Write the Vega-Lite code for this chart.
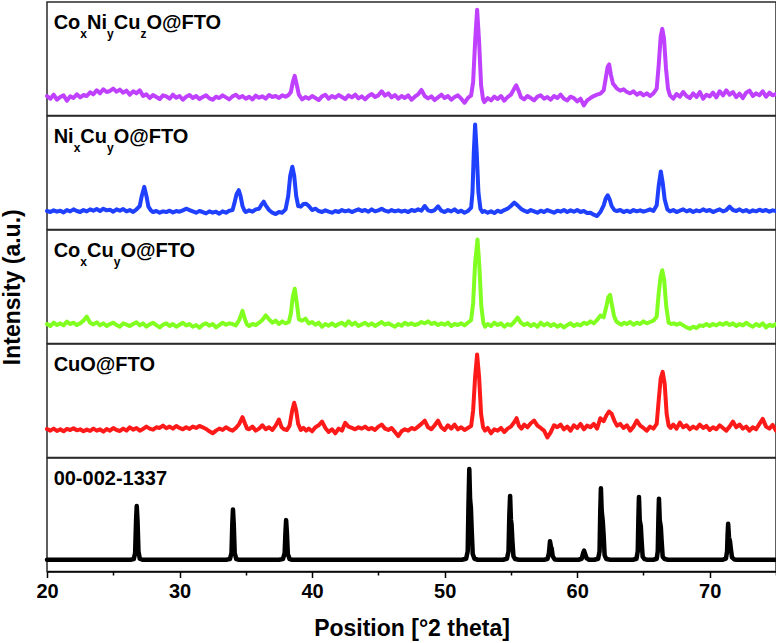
{
  "$schema": "https://vega.github.io/schema/vega-lite/v6.json",
  "padding": {"left": 0, "right": 0, "top": 1, "bottom": 0},
  "background": "white",
  "spacing": 0,
  "bounds": "flush",
  "config": {
    "font": "Liberation Sans",
    "view": {"stroke": "#2a2a2a", "strokeWidth": 1.5},
    "line": {"strokeWidth": 4, "strokeJoin": "round", "strokeCap": "round"},
    "text": {"align": "left", "baseline": "alphabetic", "fontSize": 20, "fontWeight": "bold", "color": "black"}
  },
  "datasets": {
    "p1": [
      {"pos":20.00,"int":58},{"pos":20.25,"int":50},{"pos":20.50,"int":62},{"pos":20.75,"int":47},{"pos":21.00,"int":55},{"pos":21.25,"int":60},{"pos":21.50,"int":44},{"pos":21.75,"int":57},{"pos":22.00,"int":52},{"pos":22.25,"int":63},{"pos":22.50,"int":54},{"pos":22.75,"int":61},{"pos":23.00,"int":58},{"pos":23.25,"int":69},{"pos":23.50,"int":63},{"pos":23.75,"int":75},{"pos":24.00,"int":66},{"pos":24.25,"int":78},{"pos":24.50,"int":70},{"pos":24.75,"int":73},{"pos":25.00,"int":80},{"pos":25.25,"int":71},{"pos":25.50,"int":77},{"pos":25.75,"int":68},{"pos":26.00,"int":74},{"pos":26.25,"int":62},{"pos":26.50,"int":72},{"pos":26.75,"int":66},{"pos":27.00,"int":75},{"pos":27.25,"int":58},{"pos":27.50,"int":63},{"pos":27.75,"int":52},{"pos":28.00,"int":61},{"pos":28.25,"int":55},{"pos":28.50,"int":49},{"pos":28.75,"int":60},{"pos":29.00,"int":57},{"pos":29.25,"int":50},{"pos":29.50,"int":62},{"pos":29.75,"int":53},{"pos":30.00,"int":58},{"pos":30.25,"int":47},{"pos":30.50,"int":56},{"pos":30.75,"int":61},{"pos":31.00,"int":52},{"pos":31.25,"int":58},{"pos":31.50,"int":49},{"pos":31.75,"int":55},{"pos":32.00,"int":60},{"pos":32.25,"int":51},{"pos":32.50,"int":47},{"pos":32.75,"int":56},{"pos":33.00,"int":52},{"pos":33.25,"int":60},{"pos":33.50,"int":54},{"pos":33.75,"int":48},{"pos":34.00,"int":57},{"pos":34.25,"int":62},{"pos":34.50,"int":53},{"pos":34.75,"int":58},{"pos":35.00,"int":50},{"pos":35.25,"int":56},{"pos":35.50,"int":48},{"pos":35.75,"int":59},{"pos":36.00,"int":53},{"pos":36.25,"int":57},{"pos":36.50,"int":50},{"pos":36.75,"int":61},{"pos":37.00,"int":55},{"pos":37.25,"int":58},{"pos":37.50,"int":52},{"pos":37.75,"int":60},{"pos":38.00,"int":56},{"pos":38.25,"int":62},{"pos":38.40,"int":70},{"pos":38.55,"int":100},{"pos":38.69,"int":118},{"pos":38.85,"int":90},{"pos":39.00,"int":62},{"pos":39.25,"int":48},{"pos":39.50,"int":55},{"pos":39.75,"int":50},{"pos":40.00,"int":58},{"pos":40.25,"int":52},{"pos":40.50,"int":46},{"pos":40.75,"int":57},{"pos":41.00,"int":62},{"pos":41.25,"int":50},{"pos":41.50,"int":58},{"pos":41.75,"int":53},{"pos":42.00,"int":61},{"pos":42.25,"int":55},{"pos":42.50,"int":49},{"pos":42.75,"int":60},{"pos":43.00,"int":54},{"pos":43.25,"int":62},{"pos":43.50,"int":51},{"pos":43.75,"int":57},{"pos":44.00,"int":48},{"pos":44.25,"int":58},{"pos":44.50,"int":64},{"pos":44.75,"int":55},{"pos":45.00,"int":60},{"pos":45.25,"int":72},{"pos":45.50,"int":59},{"pos":45.75,"int":66},{"pos":46.00,"int":54},{"pos":46.25,"int":61},{"pos":46.50,"int":50},{"pos":46.75,"int":58},{"pos":47.00,"int":52},{"pos":47.25,"int":60},{"pos":47.50,"int":47},{"pos":47.75,"int":56},{"pos":48.00,"int":63},{"pos":48.25,"int":76},{"pos":48.50,"int":58},{"pos":48.75,"int":51},{"pos":49.00,"int":57},{"pos":49.25,"int":46},{"pos":49.50,"int":54},{"pos":49.75,"int":62},{"pos":50.00,"int":52},{"pos":50.25,"int":58},{"pos":50.50,"int":47},{"pos":50.75,"int":55},{"pos":51.00,"int":60},{"pos":51.25,"int":50},{"pos":51.50,"int":38},{"pos":51.75,"int":52},{"pos":52.00,"int":60},{"pos":52.15,"int":100},{"pos":52.30,"int":220},{"pos":52.45,"int":315},{"pos":52.60,"int":220},{"pos":52.75,"int":90},{"pos":52.90,"int":48},{"pos":53.00,"int":40},{"pos":53.25,"int":52},{"pos":53.50,"int":45},{"pos":53.75,"int":56},{"pos":54.00,"int":49},{"pos":54.25,"int":58},{"pos":54.50,"int":44},{"pos":54.75,"int":55},{"pos":55.00,"int":62},{"pos":55.25,"int":80},{"pos":55.40,"int":90},{"pos":55.60,"int":72},{"pos":55.75,"int":55},{"pos":56.00,"int":48},{"pos":56.25,"int":58},{"pos":56.50,"int":52},{"pos":56.75,"int":45},{"pos":57.00,"int":56},{"pos":57.25,"int":60},{"pos":57.50,"int":50},{"pos":57.75,"int":55},{"pos":58.00,"int":47},{"pos":58.25,"int":58},{"pos":58.50,"int":52},{"pos":58.75,"int":62},{"pos":59.00,"int":50},{"pos":59.25,"int":45},{"pos":59.50,"int":56},{"pos":59.75,"int":52},{"pos":60.00,"int":42},{"pos":60.25,"int":50},{"pos":60.50,"int":30},{"pos":60.75,"int":45},{"pos":61.00,"int":52},{"pos":61.25,"int":58},{"pos":61.50,"int":62},{"pos":61.75,"int":65},{"pos":62.00,"int":75},{"pos":62.15,"int":110},{"pos":62.30,"int":145},{"pos":62.41,"int":152},{"pos":62.55,"int":120},{"pos":62.70,"int":95},{"pos":62.85,"int":88},{"pos":63.00,"int":80},{"pos":63.25,"int":74},{"pos":63.50,"int":78},{"pos":63.75,"int":70},{"pos":64.00,"int":66},{"pos":64.25,"int":72},{"pos":64.50,"int":62},{"pos":64.75,"int":68},{"pos":65.00,"int":60},{"pos":65.25,"int":66},{"pos":65.50,"int":58},{"pos":65.75,"int":66},{"pos":66.00,"int":80},{"pos":66.15,"int":150},{"pos":66.30,"int":235},{"pos":66.42,"int":258},{"pos":66.55,"int":230},{"pos":66.70,"int":140},{"pos":66.85,"int":80},{"pos":67.00,"int":60},{"pos":67.25,"int":50},{"pos":67.50,"int":64},{"pos":67.75,"int":56},{"pos":68.00,"int":70},{"pos":68.25,"int":58},{"pos":68.50,"int":52},{"pos":68.75,"int":66},{"pos":69.00,"int":55},{"pos":69.25,"int":70},{"pos":69.50,"int":50},{"pos":69.75,"int":62},{"pos":70.00,"int":57},{"pos":70.25,"int":68},{"pos":70.50,"int":54},{"pos":70.75,"int":72},{"pos":71.00,"int":60},{"pos":71.25,"int":75},{"pos":71.50,"int":62},{"pos":71.75,"int":70},{"pos":72.00,"int":55},{"pos":72.25,"int":65},{"pos":72.50,"int":52},{"pos":72.75,"int":68},{"pos":73.00,"int":74},{"pos":73.25,"int":58},{"pos":73.50,"int":66},{"pos":73.75,"int":60},{"pos":74.00,"int":72},{"pos":74.25,"int":56},{"pos":74.50,"int":68},{"pos":74.75,"int":60},{"pos":75.00,"int":64}
    ],
    "p2": [
      {"pos":20.00,"int":55},{"pos":20.25,"int":52},{"pos":20.50,"int":57},{"pos":20.75,"int":53},{"pos":21.00,"int":56},{"pos":21.25,"int":51},{"pos":21.50,"int":58},{"pos":21.75,"int":54},{"pos":22.00,"int":60},{"pos":22.25,"int":55},{"pos":22.50,"int":52},{"pos":22.75,"int":58},{"pos":23.00,"int":54},{"pos":23.25,"int":60},{"pos":23.50,"int":56},{"pos":23.75,"int":61},{"pos":24.00,"int":55},{"pos":24.25,"int":62},{"pos":24.50,"int":57},{"pos":24.75,"int":59},{"pos":25.00,"int":53},{"pos":25.25,"int":60},{"pos":25.50,"int":56},{"pos":25.75,"int":61},{"pos":26.00,"int":54},{"pos":26.25,"int":58},{"pos":26.50,"int":52},{"pos":26.75,"int":60},{"pos":27.00,"int":70},{"pos":27.15,"int":100},{"pos":27.34,"int":127},{"pos":27.50,"int":100},{"pos":27.65,"int":68},{"pos":27.85,"int":56},{"pos":28.00,"int":52},{"pos":28.25,"int":55},{"pos":28.50,"int":50},{"pos":28.75,"int":54},{"pos":29.00,"int":52},{"pos":29.25,"int":56},{"pos":29.50,"int":51},{"pos":29.75,"int":55},{"pos":30.00,"int":53},{"pos":30.25,"int":57},{"pos":30.50,"int":62},{"pos":30.75,"int":58},{"pos":31.00,"int":54},{"pos":31.25,"int":50},{"pos":31.50,"int":55},{"pos":31.75,"int":52},{"pos":32.00,"int":48},{"pos":32.25,"int":54},{"pos":32.50,"int":50},{"pos":32.75,"int":53},{"pos":33.00,"int":47},{"pos":33.25,"int":54},{"pos":33.50,"int":50},{"pos":33.75,"int":56},{"pos":34.00,"int":58},{"pos":34.15,"int":80},{"pos":34.30,"int":105},{"pos":34.47,"int":117},{"pos":34.60,"int":100},{"pos":34.75,"int":70},{"pos":34.90,"int":56},{"pos":35.00,"int":52},{"pos":35.25,"int":57},{"pos":35.50,"int":53},{"pos":35.75,"int":60},{"pos":36.00,"int":62},{"pos":36.20,"int":75},{"pos":36.35,"int":83},{"pos":36.50,"int":72},{"pos":36.75,"int":58},{"pos":37.00,"int":50},{"pos":37.25,"int":46},{"pos":37.50,"int":52},{"pos":37.75,"int":50},{"pos":38.00,"int":60},{"pos":38.20,"int":100},{"pos":38.35,"int":160},{"pos":38.51,"int":187},{"pos":38.65,"int":160},{"pos":38.80,"int":100},{"pos":38.95,"int":70},{"pos":39.15,"int":68},{"pos":39.35,"int":76},{"pos":39.55,"int":77},{"pos":39.75,"int":70},{"pos":40.00,"int":58},{"pos":40.25,"int":62},{"pos":40.50,"int":55},{"pos":40.75,"int":52},{"pos":41.00,"int":57},{"pos":41.25,"int":53},{"pos":41.50,"int":50},{"pos":41.75,"int":55},{"pos":42.00,"int":52},{"pos":42.25,"int":58},{"pos":42.50,"int":54},{"pos":42.75,"int":57},{"pos":43.00,"int":52},{"pos":43.25,"int":56},{"pos":43.50,"int":60},{"pos":43.75,"int":55},{"pos":44.00,"int":58},{"pos":44.25,"int":53},{"pos":44.50,"int":60},{"pos":44.75,"int":54},{"pos":45.00,"int":57},{"pos":45.25,"int":62},{"pos":45.50,"int":56},{"pos":45.75,"int":53},{"pos":46.00,"int":58},{"pos":46.25,"int":54},{"pos":46.50,"int":57},{"pos":46.75,"int":53},{"pos":47.00,"int":56},{"pos":47.25,"int":52},{"pos":47.50,"int":58},{"pos":47.75,"int":55},{"pos":48.00,"int":60},{"pos":48.25,"int":56},{"pos":48.50,"int":70},{"pos":48.75,"int":57},{"pos":49.00,"int":54},{"pos":49.25,"int":58},{"pos":49.50,"int":69},{"pos":49.75,"int":56},{"pos":50.00,"int":52},{"pos":50.25,"int":58},{"pos":50.50,"int":54},{"pos":50.75,"int":60},{"pos":51.00,"int":52},{"pos":51.25,"int":56},{"pos":51.50,"int":50},{"pos":51.75,"int":55},{"pos":52.00,"int":65},{"pos":52.10,"int":110},{"pos":52.20,"int":230},{"pos":52.30,"int":313},{"pos":52.42,"int":230},{"pos":52.55,"int":110},{"pos":52.70,"int":62},{"pos":52.85,"int":52},{"pos":53.00,"int":55},{"pos":53.25,"int":50},{"pos":53.50,"int":54},{"pos":53.75,"int":49},{"pos":54.00,"int":56},{"pos":54.25,"int":52},{"pos":54.50,"int":58},{"pos":54.75,"int":62},{"pos":55.00,"int":70},{"pos":55.25,"int":80},{"pos":55.50,"int":72},{"pos":55.75,"int":62},{"pos":56.00,"int":56},{"pos":56.25,"int":52},{"pos":56.50,"int":58},{"pos":56.75,"int":54},{"pos":57.00,"int":50},{"pos":57.25,"int":56},{"pos":57.50,"int":52},{"pos":57.75,"int":58},{"pos":58.00,"int":54},{"pos":58.25,"int":50},{"pos":58.50,"int":56},{"pos":58.75,"int":53},{"pos":59.00,"int":58},{"pos":59.25,"int":52},{"pos":59.50,"int":57},{"pos":59.75,"int":53},{"pos":60.00,"int":58},{"pos":60.25,"int":52},{"pos":60.50,"int":55},{"pos":60.75,"int":49},{"pos":61.00,"int":50},{"pos":61.25,"int":44},{"pos":61.50,"int":40},{"pos":61.75,"int":52},{"pos":62.00,"int":72},{"pos":62.15,"int":92},{"pos":62.30,"int":102},{"pos":62.45,"int":90},{"pos":62.60,"int":70},{"pos":62.80,"int":58},{"pos":63.00,"int":55},{"pos":63.25,"int":58},{"pos":63.50,"int":52},{"pos":63.75,"int":56},{"pos":64.00,"int":52},{"pos":64.25,"int":58},{"pos":64.50,"int":54},{"pos":64.75,"int":57},{"pos":65.00,"int":53},{"pos":65.25,"int":56},{"pos":65.50,"int":60},{"pos":65.75,"int":55},{"pos":66.00,"int":72},{"pos":66.15,"int":130},{"pos":66.31,"int":173},{"pos":66.45,"int":140},{"pos":66.60,"int":90},{"pos":66.80,"int":60},{"pos":67.00,"int":54},{"pos":67.25,"int":58},{"pos":67.50,"int":52},{"pos":67.75,"int":56},{"pos":68.00,"int":60},{"pos":68.25,"int":54},{"pos":68.50,"int":58},{"pos":68.75,"int":52},{"pos":69.00,"int":57},{"pos":69.25,"int":54},{"pos":69.50,"int":60},{"pos":69.75,"int":55},{"pos":70.00,"int":58},{"pos":70.25,"int":52},{"pos":70.50,"int":56},{"pos":70.75,"int":60},{"pos":71.00,"int":54},{"pos":71.25,"int":58},{"pos":71.50,"int":68},{"pos":71.75,"int":58},{"pos":72.00,"int":55},{"pos":72.25,"int":60},{"pos":72.50,"int":54},{"pos":72.75,"int":58},{"pos":73.00,"int":52},{"pos":73.25,"int":57},{"pos":73.50,"int":54},{"pos":73.75,"int":59},{"pos":74.00,"int":55},{"pos":74.25,"int":58},{"pos":74.50,"int":53},{"pos":74.75,"int":57},{"pos":75.00,"int":55}
    ],
    "p3": [
      {"pos":20.00,"int":58},{"pos":20.25,"int":52},{"pos":20.50,"int":62},{"pos":20.75,"int":55},{"pos":21.00,"int":60},{"pos":21.25,"int":54},{"pos":21.50,"int":65},{"pos":21.75,"int":58},{"pos":22.00,"int":62},{"pos":22.25,"int":55},{"pos":22.50,"int":60},{"pos":22.75,"int":68},{"pos":23.00,"int":80},{"pos":23.25,"int":62},{"pos":23.50,"int":57},{"pos":23.75,"int":63},{"pos":24.00,"int":54},{"pos":24.25,"int":60},{"pos":24.50,"int":52},{"pos":24.75,"int":58},{"pos":25.00,"int":62},{"pos":25.25,"int":55},{"pos":25.50,"int":50},{"pos":25.75,"int":60},{"pos":26.00,"int":56},{"pos":26.25,"int":52},{"pos":26.50,"int":58},{"pos":26.75,"int":63},{"pos":27.00,"int":54},{"pos":27.25,"int":60},{"pos":27.50,"int":50},{"pos":27.75,"int":57},{"pos":28.00,"int":62},{"pos":28.25,"int":55},{"pos":28.50,"int":48},{"pos":28.75,"int":56},{"pos":29.00,"int":60},{"pos":29.25,"int":52},{"pos":29.50,"int":58},{"pos":29.75,"int":50},{"pos":30.00,"int":56},{"pos":30.25,"int":62},{"pos":30.50,"int":54},{"pos":30.75,"int":58},{"pos":31.00,"int":50},{"pos":31.25,"int":55},{"pos":31.50,"int":47},{"pos":31.75,"int":56},{"pos":32.00,"int":60},{"pos":32.25,"int":53},{"pos":32.50,"int":58},{"pos":32.75,"int":48},{"pos":33.00,"int":55},{"pos":33.25,"int":62},{"pos":33.50,"int":56},{"pos":33.75,"int":60},{"pos":34.00,"int":58},{"pos":34.25,"int":54},{"pos":34.50,"int":70},{"pos":34.75,"int":97},{"pos":34.95,"int":70},{"pos":35.10,"int":56},{"pos":35.25,"int":52},{"pos":35.50,"int":58},{"pos":35.75,"int":55},{"pos":36.00,"int":62},{"pos":36.25,"int":70},{"pos":36.50,"int":84},{"pos":36.75,"int":72},{"pos":37.00,"int":62},{"pos":37.25,"int":68},{"pos":37.50,"int":58},{"pos":37.75,"int":66},{"pos":38.00,"int":60},{"pos":38.25,"int":64},{"pos":38.40,"int":90},{"pos":38.55,"int":140},{"pos":38.69,"int":163},{"pos":38.85,"int":120},{"pos":39.00,"int":72},{"pos":39.25,"int":68},{"pos":39.50,"int":74},{"pos":39.75,"int":60},{"pos":40.00,"int":64},{"pos":40.25,"int":56},{"pos":40.50,"int":62},{"pos":40.75,"int":50},{"pos":41.00,"int":58},{"pos":41.25,"int":53},{"pos":41.50,"int":60},{"pos":41.75,"int":52},{"pos":42.00,"int":58},{"pos":42.25,"int":62},{"pos":42.50,"int":54},{"pos":42.75,"int":66},{"pos":43.00,"int":56},{"pos":43.25,"int":62},{"pos":43.50,"int":52},{"pos":43.75,"int":57},{"pos":44.00,"int":62},{"pos":44.25,"int":54},{"pos":44.50,"int":60},{"pos":44.75,"int":52},{"pos":45.00,"int":58},{"pos":45.25,"int":64},{"pos":45.50,"int":56},{"pos":45.75,"int":60},{"pos":46.00,"int":55},{"pos":46.25,"int":50},{"pos":46.50,"int":58},{"pos":46.75,"int":53},{"pos":47.00,"int":62},{"pos":47.25,"int":56},{"pos":47.50,"int":60},{"pos":47.75,"int":55},{"pos":48.00,"int":58},{"pos":48.25,"int":64},{"pos":48.50,"int":60},{"pos":48.75,"int":66},{"pos":49.00,"int":58},{"pos":49.25,"int":62},{"pos":49.50,"int":55},{"pos":49.75,"int":60},{"pos":50.00,"int":56},{"pos":50.25,"int":62},{"pos":50.50,"int":52},{"pos":50.75,"int":58},{"pos":51.00,"int":55},{"pos":51.25,"int":60},{"pos":51.50,"int":54},{"pos":51.75,"int":62},{"pos":52.00,"int":70},{"pos":52.15,"int":120},{"pos":52.30,"int":240},{"pos":52.48,"int":310},{"pos":52.62,"int":230},{"pos":52.77,"int":110},{"pos":52.92,"int":62},{"pos":53.05,"int":50},{"pos":53.25,"int":58},{"pos":53.50,"int":52},{"pos":53.75,"int":62},{"pos":54.00,"int":55},{"pos":54.25,"int":60},{"pos":54.50,"int":50},{"pos":54.75,"int":58},{"pos":55.00,"int":54},{"pos":55.25,"int":64},{"pos":55.50,"int":77},{"pos":55.75,"int":62},{"pos":56.00,"int":55},{"pos":56.25,"int":60},{"pos":56.50,"int":52},{"pos":56.75,"int":58},{"pos":57.00,"int":50},{"pos":57.25,"int":62},{"pos":57.50,"int":54},{"pos":57.75,"int":60},{"pos":58.00,"int":52},{"pos":58.25,"int":58},{"pos":58.50,"int":50},{"pos":58.75,"int":56},{"pos":59.00,"int":48},{"pos":59.25,"int":55},{"pos":59.50,"int":60},{"pos":59.75,"int":52},{"pos":60.00,"int":58},{"pos":60.25,"int":54},{"pos":60.50,"int":62},{"pos":60.75,"int":58},{"pos":61.00,"int":66},{"pos":61.25,"int":60},{"pos":61.50,"int":70},{"pos":61.75,"int":83},{"pos":62.00,"int":78},{"pos":62.20,"int":110},{"pos":62.35,"int":138},{"pos":62.48,"int":145},{"pos":62.62,"int":115},{"pos":62.78,"int":82},{"pos":62.95,"int":66},{"pos":63.15,"int":60},{"pos":63.35,"int":56},{"pos":63.55,"int":62},{"pos":63.75,"int":58},{"pos":64.00,"int":64},{"pos":64.25,"int":56},{"pos":64.50,"int":62},{"pos":64.75,"int":58},{"pos":65.00,"int":66},{"pos":65.25,"int":60},{"pos":65.50,"int":64},{"pos":65.75,"int":68},{"pos":66.00,"int":80},{"pos":66.15,"int":150},{"pos":66.30,"int":200},{"pos":66.42,"int":218},{"pos":66.56,"int":190},{"pos":66.72,"int":110},{"pos":66.90,"int":62},{"pos":67.10,"int":58},{"pos":67.30,"int":60},{"pos":67.50,"int":56},{"pos":67.75,"int":60},{"pos":68.00,"int":54},{"pos":68.25,"int":48},{"pos":68.50,"int":44},{"pos":68.75,"int":50},{"pos":69.00,"int":46},{"pos":69.25,"int":54},{"pos":69.50,"int":52},{"pos":69.75,"int":58},{"pos":70.00,"int":52},{"pos":70.25,"int":58},{"pos":70.50,"int":54},{"pos":70.75,"int":60},{"pos":71.00,"int":56},{"pos":71.25,"int":62},{"pos":71.50,"int":55},{"pos":71.75,"int":60},{"pos":72.00,"int":52},{"pos":72.25,"int":58},{"pos":72.50,"int":54},{"pos":72.75,"int":62},{"pos":73.00,"int":55},{"pos":73.25,"int":50},{"pos":73.50,"int":58},{"pos":73.75,"int":52},{"pos":74.00,"int":60},{"pos":74.25,"int":48},{"pos":74.50,"int":56},{"pos":74.75,"int":52},{"pos":75.00,"int":58}
    ],
    "p4": [
      {"pos":20.00,"int":85},{"pos":20.25,"int":80},{"pos":20.50,"int":86},{"pos":20.75,"int":79},{"pos":21.00,"int":84},{"pos":21.25,"int":78},{"pos":21.50,"int":85},{"pos":21.75,"int":82},{"pos":22.00,"int":87},{"pos":22.25,"int":81},{"pos":22.50,"int":84},{"pos":22.75,"int":78},{"pos":23.00,"int":83},{"pos":23.25,"int":79},{"pos":23.50,"int":86},{"pos":23.75,"int":80},{"pos":24.00,"int":84},{"pos":24.25,"int":77},{"pos":24.50,"int":85},{"pos":24.75,"int":80},{"pos":25.00,"int":88},{"pos":25.25,"int":82},{"pos":25.50,"int":79},{"pos":25.75,"int":86},{"pos":26.00,"int":80},{"pos":26.25,"int":90},{"pos":26.50,"int":83},{"pos":26.75,"int":88},{"pos":27.00,"int":80},{"pos":27.25,"int":85},{"pos":27.50,"int":92},{"pos":27.75,"int":86},{"pos":28.00,"int":83},{"pos":28.25,"int":90},{"pos":28.50,"int":88},{"pos":28.75,"int":95},{"pos":29.00,"int":87},{"pos":29.25,"int":92},{"pos":29.50,"int":86},{"pos":29.75,"int":94},{"pos":30.00,"int":88},{"pos":30.25,"int":84},{"pos":30.50,"int":90},{"pos":30.75,"int":85},{"pos":31.00,"int":92},{"pos":31.25,"int":88},{"pos":31.50,"int":94},{"pos":31.75,"int":90},{"pos":32.00,"int":85},{"pos":32.25,"int":78},{"pos":32.50,"int":72},{"pos":32.75,"int":80},{"pos":33.00,"int":86},{"pos":33.25,"int":82},{"pos":33.50,"int":90},{"pos":33.75,"int":84},{"pos":34.00,"int":80},{"pos":34.25,"int":88},{"pos":34.50,"int":100},{"pos":34.75,"int":120},{"pos":34.95,"int":100},{"pos":35.10,"int":86},{"pos":35.25,"int":84},{"pos":35.50,"int":92},{"pos":35.75,"int":80},{"pos":36.00,"int":86},{"pos":36.25,"int":96},{"pos":36.50,"int":84},{"pos":36.75,"int":90},{"pos":37.00,"int":82},{"pos":37.25,"int":95},{"pos":37.50,"int":113},{"pos":37.70,"int":90},{"pos":37.90,"int":84},{"pos":38.10,"int":82},{"pos":38.30,"int":95},{"pos":38.50,"int":140},{"pos":38.65,"int":163},{"pos":38.80,"int":140},{"pos":38.95,"int":100},{"pos":39.15,"int":82},{"pos":39.35,"int":88},{"pos":39.55,"int":80},{"pos":39.75,"int":86},{"pos":40.00,"int":78},{"pos":40.25,"int":90},{"pos":40.50,"int":96},{"pos":40.75,"int":107},{"pos":41.00,"int":88},{"pos":41.25,"int":76},{"pos":41.50,"int":84},{"pos":41.75,"int":72},{"pos":42.00,"int":86},{"pos":42.25,"int":80},{"pos":42.50,"int":103},{"pos":42.75,"int":92},{"pos":43.00,"int":88},{"pos":43.25,"int":84},{"pos":43.50,"int":90},{"pos":43.75,"int":86},{"pos":44.00,"int":92},{"pos":44.25,"int":84},{"pos":44.50,"int":88},{"pos":44.75,"int":82},{"pos":45.00,"int":92},{"pos":45.25,"int":98},{"pos":45.50,"int":86},{"pos":45.75,"int":82},{"pos":46.00,"int":88},{"pos":46.25,"int":76},{"pos":46.50,"int":64},{"pos":46.75,"int":78},{"pos":47.00,"int":84},{"pos":47.25,"int":80},{"pos":47.50,"int":88},{"pos":47.75,"int":84},{"pos":48.00,"int":92},{"pos":48.25,"int":100},{"pos":48.50,"int":110},{"pos":48.75,"int":90},{"pos":49.00,"int":84},{"pos":49.25,"int":96},{"pos":49.50,"int":110},{"pos":49.75,"int":90},{"pos":50.00,"int":82},{"pos":50.25,"int":96},{"pos":50.50,"int":86},{"pos":50.75,"int":98},{"pos":51.00,"int":84},{"pos":51.25,"int":90},{"pos":51.50,"int":82},{"pos":51.75,"int":88},{"pos":52.00,"int":94},{"pos":52.15,"int":140},{"pos":52.30,"int":240},{"pos":52.45,"int":307},{"pos":52.60,"int":240},{"pos":52.75,"int":130},{"pos":52.90,"int":90},{"pos":53.05,"int":80},{"pos":53.25,"int":88},{"pos":53.50,"int":72},{"pos":53.75,"int":84},{"pos":54.00,"int":80},{"pos":54.25,"int":88},{"pos":54.50,"int":76},{"pos":54.75,"int":86},{"pos":55.00,"int":92},{"pos":55.25,"int":105},{"pos":55.43,"int":117},{"pos":55.60,"int":95},{"pos":55.80,"int":86},{"pos":56.00,"int":98},{"pos":56.25,"int":90},{"pos":56.50,"int":102},{"pos":56.75,"int":110},{"pos":57.00,"int":95},{"pos":57.25,"int":88},{"pos":57.50,"int":80},{"pos":57.75,"int":60},{"pos":58.00,"int":75},{"pos":58.25,"int":96},{"pos":58.50,"int":90},{"pos":58.75,"int":98},{"pos":59.00,"int":84},{"pos":59.25,"int":92},{"pos":59.50,"int":80},{"pos":59.75,"int":96},{"pos":60.00,"int":88},{"pos":60.25,"int":100},{"pos":60.50,"int":84},{"pos":60.75,"int":95},{"pos":61.00,"int":90},{"pos":61.25,"int":100},{"pos":61.50,"int":86},{"pos":61.75,"int":117},{"pos":62.00,"int":108},{"pos":62.20,"int":125},{"pos":62.40,"int":137},{"pos":62.60,"int":130},{"pos":62.80,"int":110},{"pos":63.00,"int":95},{"pos":63.25,"int":100},{"pos":63.50,"int":88},{"pos":63.75,"int":96},{"pos":64.00,"int":80},{"pos":64.25,"int":92},{"pos":64.50,"int":110},{"pos":64.75,"int":95},{"pos":65.00,"int":88},{"pos":65.25,"int":80},{"pos":65.50,"int":92},{"pos":65.75,"int":86},{"pos":66.00,"int":100},{"pos":66.15,"int":170},{"pos":66.30,"int":235},{"pos":66.45,"int":255},{"pos":66.60,"int":220},{"pos":66.75,"int":130},{"pos":66.90,"int":95},{"pos":67.05,"int":88},{"pos":67.25,"int":98},{"pos":67.50,"int":86},{"pos":67.75,"int":104},{"pos":68.00,"int":90},{"pos":68.25,"int":96},{"pos":68.50,"int":84},{"pos":68.75,"int":92},{"pos":69.00,"int":86},{"pos":69.25,"int":98},{"pos":69.50,"int":88},{"pos":69.75,"int":94},{"pos":70.00,"int":82},{"pos":70.25,"int":90},{"pos":70.50,"int":84},{"pos":70.75,"int":96},{"pos":71.00,"int":88},{"pos":71.25,"int":80},{"pos":71.50,"int":92},{"pos":71.75,"int":107},{"pos":72.00,"int":90},{"pos":72.25,"int":98},{"pos":72.50,"int":86},{"pos":72.75,"int":92},{"pos":73.00,"int":80},{"pos":73.25,"int":90},{"pos":73.50,"int":84},{"pos":73.75,"int":100},{"pos":74.00,"int":115},{"pos":74.25,"int":92},{"pos":74.50,"int":86},{"pos":74.75,"int":97},{"pos":75.00,"int":80}
    ],
    "p5": [
      {"pos":20,"int":35},{"pos":26.3,"int":35},{"pos":26.55,"int":37},{"pos":26.65,"int":55},{"pos":26.72,"int":150},{"pos":26.77,"int":195},{"pos":26.83,"int":150},{"pos":26.9,"int":60},{"pos":27.0,"int":38},{"pos":27.2,"int":35},
      {"pos":33.5,"int":35},{"pos":33.8,"int":37},{"pos":33.92,"int":55},{"pos":33.98,"int":140},{"pos":34.03,"int":185},{"pos":34.09,"int":140},{"pos":34.16,"int":55},{"pos":34.28,"int":37},{"pos":34.5,"int":35},
      {"pos":37.5,"int":35},{"pos":37.8,"int":37},{"pos":37.93,"int":55},{"pos":37.99,"int":115},{"pos":38.04,"int":153},{"pos":38.1,"int":115},{"pos":38.17,"int":52},{"pos":38.3,"int":37},{"pos":38.5,"int":35},
      {"pos":51.3,"int":35},{"pos":51.62,"int":38},{"pos":51.74,"int":60},{"pos":51.8,"int":200},{"pos":51.86,"int":305},{"pos":51.92,"int":215},{"pos":51.98,"int":190},{"pos":52.04,"int":125},{"pos":52.12,"int":52},{"pos":52.25,"int":38},{"pos":52.5,"int":35},
      {"pos":54.4,"int":35},{"pos":54.7,"int":38},{"pos":54.82,"int":60},{"pos":54.88,"int":165},{"pos":54.94,"int":225},{"pos":55.0,"int":155},{"pos":55.05,"int":140},{"pos":55.11,"int":92},{"pos":55.19,"int":46},{"pos":55.32,"int":37},{"pos":55.6,"int":35},
      {"pos":57.5,"int":35},{"pos":57.76,"int":37},{"pos":57.87,"int":55},{"pos":57.95,"int":90},{"pos":58.02,"int":74},{"pos":58.08,"int":68},{"pos":58.15,"int":46},{"pos":58.3,"int":36},{"pos":58.6,"int":35},
      {"pos":60.1,"int":35},{"pos":60.34,"int":38},{"pos":60.45,"int":55},{"pos":60.52,"int":62},{"pos":60.6,"int":52},{"pos":60.7,"int":40},{"pos":60.9,"int":35},
      {"pos":61.3,"int":35},{"pos":61.58,"int":38},{"pos":61.69,"int":60},{"pos":61.74,"int":175},{"pos":61.79,"int":248},{"pos":61.85,"int":180},{"pos":61.93,"int":150},{"pos":61.99,"int":112},{"pos":62.07,"int":48},{"pos":62.2,"int":37},{"pos":62.5,"int":35},
      {"pos":64.2,"int":35},{"pos":64.47,"int":38},{"pos":64.57,"int":60},{"pos":64.62,"int":160},{"pos":64.66,"int":222},{"pos":64.72,"int":152},{"pos":64.8,"int":135},{"pos":64.86,"int":92},{"pos":64.94,"int":44},{"pos":65.08,"int":37},{"pos":65.3,"int":35},
      {"pos":65.75,"int":35},{"pos":66.0,"int":38},{"pos":66.08,"int":60},{"pos":66.13,"int":160},{"pos":66.17,"int":217},{"pos":66.23,"int":152},{"pos":66.31,"int":133},{"pos":66.37,"int":92},{"pos":66.45,"int":44},{"pos":66.6,"int":37},{"pos":66.85,"int":35},
      {"pos":71.0,"int":35},{"pos":71.22,"int":38},{"pos":71.31,"int":60},{"pos":71.35,"int":110},{"pos":71.39,"int":142},{"pos":71.45,"int":102},{"pos":71.53,"int":90},{"pos":71.6,"int":65},{"pos":71.68,"int":42},{"pos":71.85,"int":36},{"pos":72.1,"int":35},{"pos":75,"int":35}
    ]
  },
  "vconcat": [
    {
      "width": 729, "height": 113.5,
      "layer": [
        {"data": {"name": "p1"}, "mark": {"type": "line", "color": "#BF40FF"},
         "encoding": {
           "x": {"field": "pos", "type": "quantitative", "scale": {"domain": [20, 75], "nice": false, "zero": false}, "axis": null},
           "y": {"field": "int", "type": "quantitative", "scale": {"domain": [0, 338], "nice": false, "zero": false}, "axis": null}}},
        {"data": {"values": [{}]},
         "encoding": {"x": {"datum": 20.5, "type": "quantitative", "axis": null}, "y": {"datum": 258, "type": "quantitative", "axis": null}},
         "layer": [
           {"mark": {"type": "text", "text": "Co"}},
           {"mark": {"type": "text", "text": "x", "fontSize": 12, "dx": 26.7, "dy": 9}},
           {"mark": {"type": "text", "text": "Ni", "dx": 33.4}},
           {"mark": {"type": "text", "text": "y", "fontSize": 12, "dx": 53.4, "dy": 9}},
           {"mark": {"type": "text", "text": "Cu", "dx": 60.1}},
           {"mark": {"type": "text", "text": "z", "fontSize": 12, "dx": 86.8, "dy": 9}},
           {"mark": {"type": "text", "text": "O@FTO", "dx": 92.8}}
         ]}
      ]
    },
    {
      "width": 729, "height": 113.5,
      "layer": [
        {"data": {"name": "p2"}, "mark": {"type": "line", "color": "#2040FF"},
         "encoding": {
           "x": {"field": "pos", "type": "quantitative", "scale": {"domain": [20, 75], "nice": false, "zero": false}, "axis": null},
           "y": {"field": "int", "type": "quantitative", "scale": {"domain": [0, 338], "nice": false, "zero": false}, "axis": null}}},
        {"data": {"values": [{}]},
         "encoding": {"x": {"datum": 20.5, "type": "quantitative", "axis": null}, "y": {"datum": 258, "type": "quantitative", "axis": null}},
         "layer": [
           {"mark": {"type": "text", "text": "Ni"}},
           {"mark": {"type": "text", "text": "x", "fontSize": 12, "dx": 20, "dy": 9}},
           {"mark": {"type": "text", "text": "Cu", "dx": 26.7}},
           {"mark": {"type": "text", "text": "y", "fontSize": 12, "dx": 53.4, "dy": 9}},
           {"mark": {"type": "text", "text": "O@FTO", "dx": 60.1}}
         ]}
      ]
    },
    {
      "width": 729, "height": 113.5,
      "layer": [
        {"data": {"name": "p3"}, "mark": {"type": "line", "color": "#80FF20"},
         "encoding": {
           "x": {"field": "pos", "type": "quantitative", "scale": {"domain": [20, 75], "nice": false, "zero": false}, "axis": null},
           "y": {"field": "int", "type": "quantitative", "scale": {"domain": [0, 338], "nice": false, "zero": false},
                 "axis": {"title": "Intensity (a.u.)", "labels": false, "ticks": false, "domain": false, "grid": false, "titleFontSize": 23, "titleFontWeight": "bold", "titleColor": "black", "titlePadding": 23}}}},
        {"data": {"values": [{}]},
         "encoding": {"x": {"datum": 20.5, "type": "quantitative", "axis": null},
                      "y": {"datum": 258, "type": "quantitative",
                            "axis": {"title": "Intensity (a.u.)", "labels": false, "ticks": false, "domain": false, "grid": false, "titleFontSize": 23, "titleFontWeight": "bold", "titleColor": "black", "titlePadding": 23}}},
         "layer": [
           {"mark": {"type": "text", "text": "Co"}},
           {"mark": {"type": "text", "text": "x", "fontSize": 12, "dx": 26.7, "dy": 9}},
           {"mark": {"type": "text", "text": "Cu", "dx": 33.4}},
           {"mark": {"type": "text", "text": "y", "fontSize": 12, "dx": 60.1, "dy": 9}},
           {"mark": {"type": "text", "text": "O@FTO", "dx": 66.8}}
         ]}
      ]
    },
    {
      "width": 729, "height": 113.5,
      "layer": [
        {"data": {"name": "p4"}, "mark": {"type": "line", "color": "#FF1A1A"},
         "encoding": {
           "x": {"field": "pos", "type": "quantitative", "scale": {"domain": [20, 75], "nice": false, "zero": false}, "axis": null},
           "y": {"field": "int", "type": "quantitative", "scale": {"domain": [0, 338], "nice": false, "zero": false}, "axis": null}}},
        {"data": {"values": [{}]}, "mark": {"type": "text", "text": "CuO@FTO"},
         "encoding": {"x": {"datum": 20.5, "type": "quantitative", "axis": null}, "y": {"datum": 258, "type": "quantitative", "axis": null}}}
      ]
    },
    {
      "width": 729, "height": 113.5,
      "layer": [
        {"data": {"name": "p5"}, "mark": {"type": "line", "color": "#000000", "strokeWidth": 4.5},
         "encoding": {
           "x": {"field": "pos", "type": "quantitative", "scale": {"domain": [20, 75], "nice": false, "zero": false},
                 "axis": {"title": "Position [°2 theta]", "values": [20, 25, 30, 35, 40, 45, 50, 55, 60, 65, 70, 75],
                          "labelExpr": "datum.value % 10 === 0 ? datum.label : ''", "labelFlush": false, "labelOverlap": false,
                          "grid": false, "tickSize": {"condition": {"test": "datum.value % 10 !== 0", "value": 3.5}, "value": 6},
                          "tickWidth": 1.5, "tickColor": "black", "domainColor": "black", "domainWidth": 1.5,
                          "labelFontSize": 20, "labelFontWeight": "bold", "labelColor": "black", "labelPadding": 4,
                          "titleFontSize": 23, "titleFontWeight": "bold", "titleColor": "black", "titlePadding": 16}},
           "y": {"field": "int", "type": "quantitative", "scale": {"domain": [0, 338], "nice": false, "zero": false}, "axis": null}}},
        {"data": {"values": [{}]}, "mark": {"type": "text", "text": "00-002-1337"},
         "encoding": {"x": {"datum": 20.5, "type": "quantitative",
                            "axis": {"title": "Position [°2 theta]", "values": [20, 25, 30, 35, 40, 45, 50, 55, 60, 65, 70, 75],
                                     "labelExpr": "datum.value % 10 === 0 ? datum.label : ''", "labelFlush": false, "labelOverlap": false,
                                     "grid": false, "tickSize": {"condition": {"test": "datum.value % 10 !== 0", "value": 3.5}, "value": 6},
                                     "tickWidth": 1.5, "tickColor": "black", "domainColor": "black", "domainWidth": 1.5,
                                     "labelFontSize": 20, "labelFontWeight": "bold", "labelColor": "black", "labelPadding": 4,
                                     "titleFontSize": 23, "titleFontWeight": "bold", "titleColor": "black", "titlePadding": 16}},
                      "y": {"datum": 258, "type": "quantitative", "axis": null}}}
      ]
    }
  ]
}
